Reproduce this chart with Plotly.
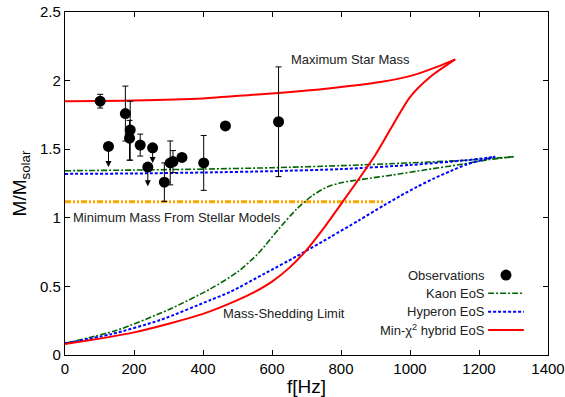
import plotly.graph_objects as go

# ---------------- data ----------------
obs_f = [102, 175, 189, 187, 218, 288, 305, 313, 339, 402, 465, 619]
obs_m = [1.85, 1.76, 1.64, 1.58, 1.53, 1.26, 1.40, 1.41, 1.44, 1.40, 1.67, 1.70]
obs_err_plus = [0.05, 0.20, 0.21, 0.13, 0.08, 0.14, 0.16, 0.08, 0.0, 0.20, 0.0, 0.40]
obs_err_minus = [0.05, 0.20, 0.22, 0.16, 0.08, 0.14, 0.16, 0.08, 0.0, 0.20, 0.0, 0.40]

lim_f = [126, 254, 240]
lim_m = [1.52, 1.51, 1.37]
lim_to = [1.37, 1.40, 1.23]

kaon_low_f = [0, 150, 300, 420, 500, 560, 620, 672, 716, 760, 800, 860, 950, 1050, 1150, 1230, 1300]
kaon_low_m = [0.085, 0.18, 0.33, 0.48, 0.605, 0.74, 0.92, 1.065, 1.16, 1.225, 1.255, 1.28, 1.312, 1.352, 1.39, 1.425, 1.445]
kaon_up_f = [0, 200, 400, 600, 800, 1000, 1165, 1300]
kaon_up_m = [1.343, 1.348, 1.355, 1.365, 1.38, 1.40, 1.42, 1.445]

hyp_low_f = [0, 131, 276, 421, 479, 576, 672, 769, 851, 924, 972, 1020, 1068, 1117, 1165, 1223, 1247]
hyp_low_m = [0.085, 0.15, 0.255, 0.40, 0.46, 0.59, 0.72, 0.86, 0.98, 1.09, 1.16, 1.225, 1.285, 1.34, 1.39, 1.43, 1.445]
hyp_up_f = [0, 200, 400, 600, 800, 1000, 1165, 1247]
hyp_up_m = [1.32, 1.323, 1.33, 1.34, 1.355, 1.385, 1.42, 1.445]

hyb_low_f = [0, 200, 400, 500, 550, 600, 650, 700, 750, 800, 900, 1000, 1060, 1131]
hyb_low_m = [0.08, 0.165, 0.30, 0.40, 0.46, 0.535, 0.635, 0.765, 0.925, 1.10, 1.46, 1.88, 2.03, 2.155]
hyb_up_f = [0, 200, 400, 537, 619, 769, 914, 1010, 1078, 1131]
hyb_up_m = [1.85, 1.855, 1.87, 1.895, 1.91, 1.945, 1.99, 2.04, 2.10, 2.155]

minmass_f = [0, 924]
minmass_m = [1.117, 1.117]

x_ticks = [0, 200, 400, 600, 800, 1000, 1200, 1400]
y_ticks = [0, 0.5, 1, 1.5, 2, 2.5]

FONT = "Liberation Sans, Arial, Helvetica, sans-serif"
GREEN = "#006400"
BLUE = "#0000FF"
RED = "#FF0000"
ORANGE = "#FFA500"

fig = go.Figure()

def curve(fx, my, color, width, dash):
    fig.add_trace(go.Scatter(x=fx, y=my, mode="lines", showlegend=False,
                             line=dict(color=color, width=width, dash=dash, shape="spline", smoothing=0.7),
                             hoverinfo="skip"))

curve(minmass_f, minmass_m, ORANGE, 3, "6px,2px,2px,2px,2px,2px")
curve(kaon_low_f, kaon_low_m, GREEN, 1.6, "6px,2px,2px,2px")
curve(kaon_up_f, kaon_up_m, GREEN, 1.6, "6px,2px,2px,2px")
curve(hyp_low_f, hyp_low_m, BLUE, 2, "3px,2px")
curve(hyp_up_f, hyp_up_m, BLUE, 2, "3px,2px")
curve(hyb_low_f, hyb_low_m, RED, 2, "solid")
curve(hyb_up_f, hyb_up_m, RED, 2, "solid")

fig.add_trace(go.Scatter(
    x=obs_f, y=obs_m, mode="markers", showlegend=False,
    marker=dict(color="black", size=11),
    error_y=dict(type="data", symmetric=False, array=obs_err_plus, arrayminus=obs_err_minus,
                 color="black", thickness=1, width=3)))
fig.add_trace(go.Scatter(x=lim_f, y=lim_m, mode="markers", showlegend=False,
                         marker=dict(color="black", size=11)))

for f, m, t in zip(lim_f, lim_m, lim_to):
    fig.add_annotation(x=f, y=t, ax=f, ay=m, xref="x", yref="y", axref="x", ayref="y",
                       text="", showarrow=True, arrowhead=2, arrowsize=1.2, arrowwidth=1,
                       arrowcolor="black", standoff=0, startstandoff=0)

txt = dict(family=FONT, size=13, color="#222222")
fig.add_annotation(x=827, y=2.155, text="Maximum Star Mass", showarrow=False, font=txt)
fig.add_annotation(x=324, y=1.0, text="Minimum Mass From Stellar Models", showarrow=False, font=txt)
fig.add_annotation(x=636, y=0.30, text="Mass-Shedding Limit", showarrow=False, font=txt)

# manual legend (gnuplot style: text right, sample left)
leg_rows = [0.233, 0.180, 0.126, 0.073]
leg_text = ["Observations", "Kaon EoS", "Hyperon EoS", "Min-χ<sup>2</sup> hybrid EoS"]
for yy, t in zip(leg_rows, leg_text):
    fig.add_annotation(x=0.874, y=yy, xref="paper", yref="paper", text=t, showarrow=False,
                       xanchor="right", yanchor="middle", font=txt)
fig.add_shape(type="circle", xref="paper", yref="paper", xsizemode="pixel", ysizemode="pixel",
              xanchor=0.913, yanchor=leg_rows[0], x0=-5.5, x1=5.5, y0=-5.5, y1=5.5,
              fillcolor="black", line=dict(color="black", width=0))
for yy, c, w, d in zip(leg_rows[1:], [GREEN, BLUE, RED], [1.6, 2, 2],
                       ["6px,2px,2px,2px", "3px,2px", "solid"]):
    fig.add_shape(type="line", xref="paper", yref="paper", x0=0.876, x1=0.950, y0=yy, y1=yy,
                  line=dict(color=c, width=w, dash=d))

axis_common = dict(showline=True, linecolor="black", linewidth=1.2, mirror="ticks",
                   ticks="inside", ticklen=5, tickcolor="black", showgrid=False, zeroline=False,
                   automargin=False,
                   tickfont=dict(family=FONT, size=15, color="black"))
fig.update_xaxes(range=[0, 1400], tickvals=x_ticks,
                 title=dict(text="f[Hz]", font=dict(family=FONT, size=19, color="black"), standoff=4),
                 **axis_common)
fig.update_yaxes(range=[0, 2.5], tickvals=y_ticks,
                 title=dict(text="M/M<sub>solar</sub>", font=dict(family=FONT, size=19, color="black"), standoff=8),
                 **axis_common)

fig.update_layout(width=565, height=397, margin=dict(l=65, r=17, t=12, b=42),
                  plot_bgcolor="white", paper_bgcolor="white", font=dict(family=FONT))

fig.write_html("out.html")
